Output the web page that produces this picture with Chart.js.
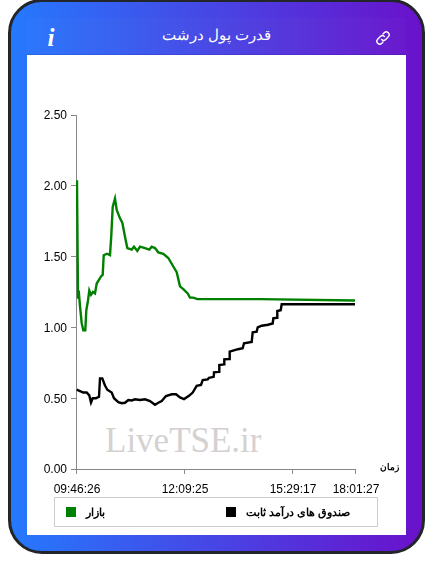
<!DOCTYPE html>
<html>
<head>
<meta charset="utf-8">
<script src="https://cdn.jsdelivr.net/npm/chart.js@4/dist/chart.umd.min.js"></script>
<style>
html, body { margin: 0; padding: 0; background: #fff; width: 433px; height: 574px; overflow: hidden; }
.card { position: absolute; left: 8px; top: -1px; width: 411px; height: 549px; border: 3px solid #22252a; border-radius: 34px;
    background: linear-gradient(90deg, #2579fd 0%, #6a11cb 100%); }
.head { position: absolute; left: 27px; top: 18px; width: 379px; height: 36px; background: rgba(255,255,255,0.02); border-bottom: 1px solid rgba(0,0,80,0.12); }
.title { position: absolute; left: 27px; width: 379px; top: 24px; text-align: center; color: #fff; font: 15px "Liberation Sans", sans-serif; direction: rtl; line-height: 22px; }
.info { position: absolute; left: 46px; top: 25px; width: 10px; text-align: center; color: #fff; font: italic bold 25px "Liberation Serif", serif; line-height: 26px; }
.link { position: absolute; left: 375px; top: 30px; }
.panel { position: absolute; left: 27px; top: 55px; width: 379px; height: 480px; background: #fff; }
.mark { position: absolute; left: 105px; top: 422px; color: #d5d1d1; font: 35px "Liberation Serif", serif; line-height: 38px; white-space: nowrap; }
canvas { position: absolute; left: 27px; top: 55px; }
.unit { position: absolute; left: 371px; width: 28px; top: 460px; text-align: right; font: bold 9px "Liberation Sans", sans-serif; color: #000; direction: rtl; line-height: 14px; }
.legend { position: absolute; left: 54px; top: 497px; width: 322px; height: 28px; border: 1px solid #ccc; font: bold 11px "Liberation Sans", sans-serif; color: #000; }
.legend i { position: absolute; top: 9px; width: 10px; height: 10px; }
.legend span { position: absolute; top: 6px; line-height: 16px; white-space: nowrap; direction: rtl; }
</style>
</head>
<body>
<div class="card"></div>
<div class="head"></div>
<div class="info">i</div>
<div class="title">قدرت پول درشت</div>
<svg class="link" width="16" height="16" viewBox="0 0 16 16" fill="none" stroke="#fff" stroke-width="1.4" stroke-linecap="round">
    <path d="M6.6 9.4a2.9 2.9 0 0 0 4.1 0l2.6-2.6a2.9 2.9 0 0 0-4.1-4.1L8 4"/>
    <path d="M9.4 6.6a2.9 2.9 0 0 0-4.1 0L2.7 9.2a2.9 2.9 0 0 0 4.1 4.1L8 12"/>
</svg>
<div class="panel"></div>
<div class="mark">LiveTSE.ir</div>
<canvas id="chart" width="379" height="480"></canvas>
<div class="unit">زمان</div>
<div class="legend" id="legend"></div>

<script>
// sample position along the time axis
const marketSteps = [0, 1, 2, 2.7, 4, 5.7, 7.3, 9.3, 10.3, 12, 13.3, 15, 17, 19, 20.7, 25, 26.7, 27.7, 31, 34, 35.3, 36.7, 39,
    40.7, 44, 46.3, 49, 51.3, 55.7, 58, 61.3, 64, 69, 73.3, 75.7, 79, 82.3, 87.3, 92.3, 97.3, 100.7, 104, 107.3, 111.7,
    114, 117.3, 121.3, 184, 279];
const marketValues = [2.03, 2.03, 1.21, 1.26, 1.15, 1.03, 0.98, 0.98, 1.12, 1.19, 1.26, 1.23, 1.25, 1.24, 1.31, 1.36, 1.37, 1.51, 1.52, 1.51, 1.65, 1.85, 1.91,
    1.83, 1.77, 1.74, 1.64, 1.56, 1.55, 1.57, 1.54, 1.57, 1.56, 1.55, 1.57, 1.56, 1.53, 1.52, 1.49, 1.43, 1.39, 1.29, 1.27, 1.24,
    1.21, 1.21, 1.20, 1.20, 1.19];

const fundSteps = [0.7, 4, 7.3, 10.7, 13.3, 15, 16.7, 20, 23, 24, 26.3, 29, 31.3, 35.7, 38, 42.3, 45.7, 49, 52.3, 55.7, 59, 64, 69, 74, 79,
    82.3, 85.7, 90, 95.7, 100, 104, 108, 113, 116.7, 120.7, 125, 126.7, 131.7, 133, 137.7, 138, 143, 143.3, 148, 148.3, 153, 153.7,
    157, 162, 166.7, 168, 175.7, 176.7, 180.7, 181.7, 185.7, 192, 196.7, 197.3, 201, 201.3, 204.7, 205.7, 279];
const fundValues = [0.56, 0.55, 0.54, 0.54, 0.52, 0.47, 0.50, 0.50, 0.51, 0.64, 0.64, 0.59, 0.56, 0.54, 0.50, 0.472, 0.465, 0.468, 0.487, 0.484, 0.492, 0.487, 0.492, 0.48, 0.454,
    0.468, 0.48, 0.515, 0.528, 0.528, 0.505, 0.494, 0.517, 0.54, 0.587, 0.594, 0.628, 0.633, 0.644, 0.651, 0.682, 0.686, 0.734, 0.739, 0.774, 0.777, 0.829,
    0.836, 0.846, 0.853, 0.888, 0.897, 0.966, 0.97, 1.0, 1.012, 1.019, 1.028, 1.064, 1.068, 1.116, 1.121, 1.163, 1.163];

const tickSteps = [0, 108, 216, 279];
const tickTimes = ['09:46:26', '12:09:25', '15:29:17', '18:01:27'];
const yTicks = [0, 0.5, 1, 1.5, 2, 2.5];

const seriesNames = ['بازار', 'صندوق های درآمد ثابت'];
const seriesColors = ['#008000', '#000000'];

const toPoints = (steps, values) => steps.map((s, i) => ({ x: s, y: values[i] }));

Chart.defaults.font.family = '"Liberation Sans", Arial, sans-serif';
Chart.defaults.font.size = 12;
Chart.defaults.color = '#000';

new Chart(document.getElementById('chart'), {
    type: 'line',
    data: {
        datasets: [{
            label: seriesNames[0],
            data: toPoints(marketSteps, marketValues),
            borderColor: seriesColors[0],
            borderWidth: 2.4,
            pointRadius: 0,
            tension: 0
        }, {
            label: seriesNames[1],
            data: toPoints(fundSteps, fundValues),
            borderColor: seriesColors[1],
            borderWidth: 2.4,
            pointRadius: 0,
            tension: 0
        }]
    },
    options: {
        responsive: false,
        animation: false,
        layout: { padding: { top: 60, right: 51, bottom: 30, left: 0 } },
        plugins: {
            legend: { display: false },
            tooltip: { enabled: false }
        },
        scales: {
            x: {
                type: 'linear',
                min: 0,
                max: 279,
                afterBuildTicks: scale => {
                    scale.ticks = tickSteps.map(v => ({ value: v }));
                },
                afterFit: scale => { scale.height = 36; },
                grid: { drawOnChartArea: false, color: '#888', tickLength: 5 },
                border: { color: '#888' },
                ticks: {
                    autoSkip: false,
                    maxRotation: 0,
                    padding: 8,
                    labelOffset: 1,
                    callback: value => tickTimes[tickSteps.indexOf(value)]
                }
            },
            y: {
                min: 0,
                max: 2.5,
                afterBuildTicks: scale => {
                    scale.ticks = yTicks.map(v => ({ value: v }));
                },
                afterFit: scale => { scale.width = 49; },
                grid: { drawOnChartArea: false, color: '#888', tickLength: 5 },
                border: { color: '#888' },
                ticks: {
                    padding: 4,
                    labelOffset: 1,
                    callback: value => value.toFixed(2)
                }
            }
        }
    }
});

// legend box
const legendEl = document.getElementById('legend');
const legendLeft = [11, 171];
seriesNames.forEach((name, i) => {
    const box = document.createElement('i');
    box.style.left = legendLeft[i] + 'px';
    box.style.background = seriesColors[i];
    legendEl.appendChild(box);
    const txt = document.createElement('span');
    txt.textContent = name;
    txt.style.left = (legendLeft[i] + 20) + 'px';
    legendEl.appendChild(txt);
});
</script>
</body>
</html>
